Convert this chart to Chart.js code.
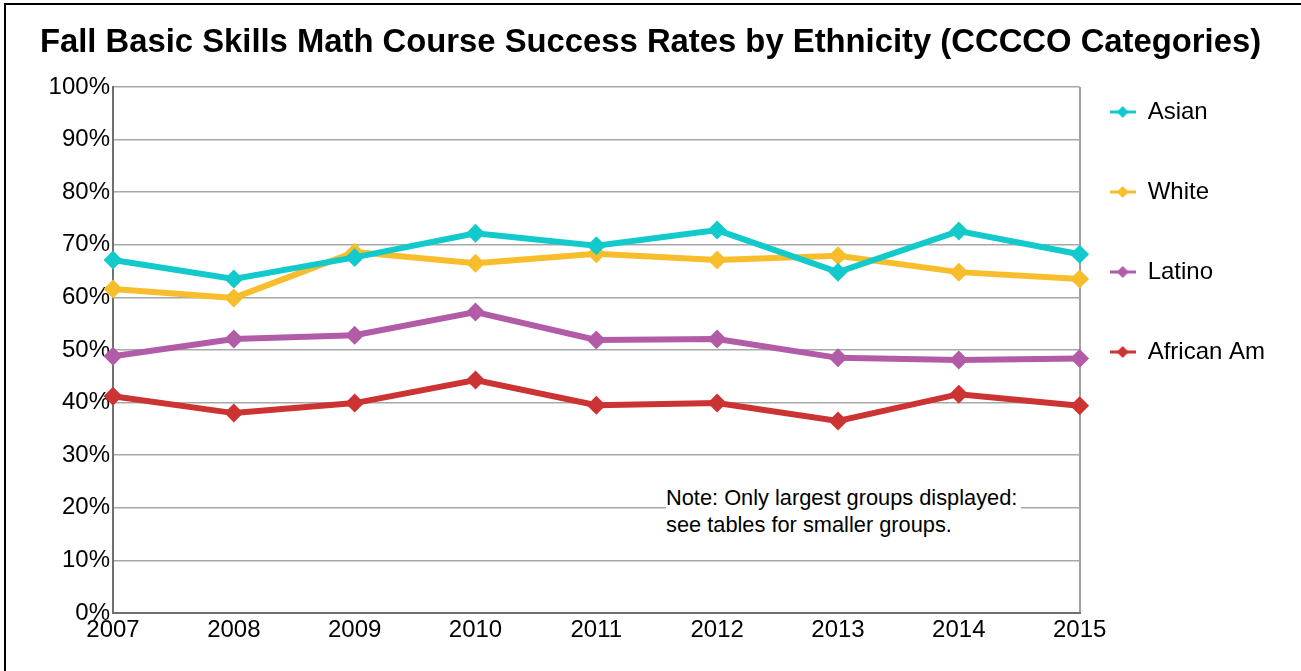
<!DOCTYPE html>
<html>
<head>
<meta charset="utf-8">
<script src="https://cdn.jsdelivr.net/npm/chart.js@4.4.1/dist/chart.umd.min.js"></script>
<style>
  body { margin: 0; background: #fff; font-family: "Liberation Sans", Arial, sans-serif; }
  #wrap { position: relative; width: 1301px; height: 671px; overflow: hidden; }
  #frame { position: absolute; left: 4px; top: 3px; width: 1400px; height: 800px;
           border-left: 2px solid #000; border-top: 2px solid #000; }
  #note { position: absolute; left: 666px; top: 484px; font-size: 21.8px; line-height: 27px;
          color: #000; background: #fff; padding-right: 4px; }
</style>
</head>
<body>
<div id="wrap">
  <div id="frame"></div>
  <canvas id="chart1" width="1301" height="671" style="position:absolute;left:0;top:0"></canvas>
  <div id="note">Note: Only largest groups displayed:<br>see tables for smaller groups.</div>
</div>
<script>
var years = ['2007', '2008', '2009', '2010', '2011', '2012', '2013', '2014', '2015'];
var asian = [67.1, 63.5, 67.6, 72.2, 69.8, 72.8, 64.8, 72.6, 68.2];
var white = [61.6, 59.9, 68.6, 66.5, 68.3, 67.1, 67.9, 64.8, 63.5];
var latino = [48.8, 52.1, 52.8, 57.2, 51.9, 52.1, 48.5, 48.1, 48.4];
var africanAm = [41.2, 38.0, 39.9, 44.3, 39.5, 39.9, 36.5, 41.6, 39.4];
var seriesNames = ['Asian', 'White', 'Latino', 'African Am'];
var seriesColors = ['#12CACB', '#F7BD2B', '#B25CA7', '#CC3333'];

var FONT = '"Liberation Sans", Arial, sans-serif';

// little line + diamond used as legend symbol
function legendIcon(color) {
    var c = document.createElement('canvas');
    c.width = 26; c.height = 14;
    var g = c.getContext('2d');
    g.strokeStyle = color;
    g.lineWidth = 3;
    g.beginPath(); g.moveTo(0, 7); g.lineTo(26, 7); g.stroke();
    g.fillStyle = color;
    g.beginPath(); g.moveTo(13, 1); g.lineTo(19, 7); g.lineTo(13, 13); g.lineTo(7, 7); g.closePath(); g.fill();
    return c;
}

function makeSet(i, values) {
    return {
        label: seriesNames[i],
        data: values,
        borderColor: seriesColors[i],
        backgroundColor: seriesColors[i],
        borderWidth: 6,
        pointStyle: 'rectRot',
        pointRadius: 9.5,
        pointHoverRadius: 9.5,
        pointBorderWidth: 0,
        tension: 0,
        icon: legendIcon(seriesColors[i])
    };
}

// nudge the legend block, its padding is tied to the row spacing
var legendNudge = {
    id: 'legendNudge',
    afterLayout: function (chart, args, opts) {
        var lg = chart.legend;
        lg.left += opts.x; lg.right += opts.x;
        lg.top += opts.y; lg.bottom += opts.y;
    }
};

var ctx1 = document.getElementById('chart1').getContext('2d');
var chart1 = new Chart(ctx1, {
    type: 'line',
    data: {
        labels: years,
        datasets: [makeSet(0, asian), makeSet(1, white), makeSet(2, latino), makeSet(3, africanAm)]
    },
    plugins: [legendNudge],
    options: {
        responsive: false,
        animation: false,
        layout: { padding: { left: 0, right: 0, top: 0, bottom: 30 } },
        plugins: {
            legendNudge: { x: -26, y: 44 },
            title: {
                display: true,
                text: 'Fall Basic Skills Math Course Success Rates by Ethnicity (CCCCO Categories)',
                color: '#000',
                font: { family: FONT, size: 32.8, weight: 'bold' },
                padding: { top: 23, bottom: 24.6 }
            },
            legend: {
                position: 'right',
                align: 'start',
                labels: {
                    color: '#000',
                    font: { family: FONT, size: 24 },
                    usePointStyle: true,
                    pointStyleWidth: 26,
                    padding: 56,
                    generateLabels: function (chart) {
                        return chart.data.datasets.map(function (ds, i) {
                            return {
                                text: ds.label,
                                pointStyle: ds.icon,
                                fillStyle: ds.borderColor,
                                strokeStyle: ds.borderColor,
                                lineWidth: 0,
                                fontColor: '#000',
                                datasetIndex: i
                            };
                        });
                    }
                }
            },
            tooltip: { enabled: false }
        },
        scales: {
            x: {
                offset: false,
                grid: {
                    drawTicks: false,
                    color: function (c) { return c.index === years.length - 1 ? '#a0a0a0' : 'rgba(0,0,0,0)'; },
                    lineWidth: 2
                },
                border: { color: '#707070', width: 2 },
                ticks: {
                    color: '#000',
                    padding: 3,
                    maxRotation: 0,
                    font: { family: FONT, size: 24 }
                },
                afterFit: function (s) { s.height = 28; }
            },
            y: {
                min: 0,
                max: 100,
                grid: { drawTicks: false, color: '#a8a8a8', lineWidth: 1.5 },
                border: { color: '#707070', width: 2 },
                ticks: {
                    stepSize: 10,
                    color: '#000',
                    padding: 3,
                    font: { family: FONT, size: 24 },
                    callback: function (v) { return v + '%'; }
                },
                afterFit: function (s) { s.width = 113; }
            }
        }
    }
});
</script>
</body>
</html>
